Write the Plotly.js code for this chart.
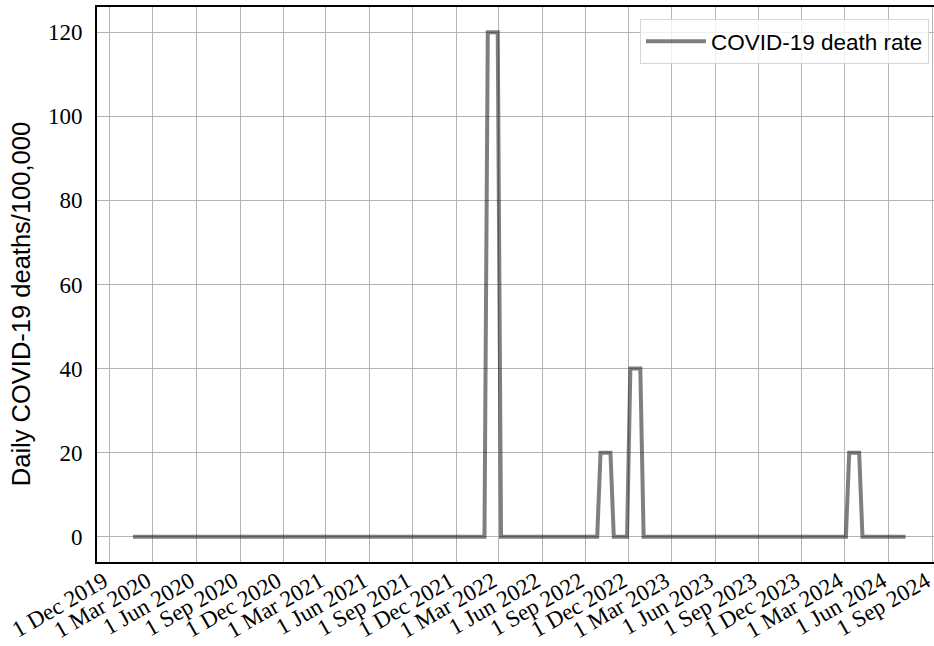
<!DOCTYPE html>
<html>
<head>
<meta charset="utf-8">
<script src="https://cdn.plot.ly/plotly-3.0.1.min.js"></script>
<style>html,body{margin:0;padding:0;background:#fff;}#chart{width:934px;height:646px;}</style>
</head>
<body>
<div id="chart"></div>
<script>
// Weekly series vertices (date of change, value)
const dates = ['2020-01-19','2022-01-30','2022-02-06','2022-02-27','2022-03-06',
  '2022-09-25','2022-10-02','2022-10-23','2022-10-30',
  '2022-11-27','2022-12-04','2022-12-25','2023-01-01',
  '2024-03-03','2024-03-10','2024-03-31','2024-04-07','2024-07-07'];
const deathRate = [0,0,120,120,0, 0,20,20,0, 0,40,40,0, 0,20,20,0,0];
const seriesName = 'COVID-19 death rate';
const yTitle = 'Daily COVID-19 deaths/100,000';
const yTicks = [0,20,40,60,80,100,120];
const xTickVals = ['2019-12-01','2020-03-01','2020-06-01','2020-09-01','2020-12-01',
  '2021-03-01','2021-06-01','2021-09-01','2021-12-01','2022-03-01','2022-06-01',
  '2022-09-01','2022-12-01','2023-03-01','2023-06-01','2023-09-01','2023-12-01',
  '2024-03-01','2024-06-01','2024-09-01'];
const xTickText = ['1 Dec 2019','1 Mar 2020','1 Jun 2020','1 Sep 2020','1 Dec 2020',
  '1 Mar 2021','1 Jun 2021','1 Sep 2021','1 Dec 2021','1 Mar 2022','1 Jun 2022',
  '1 Sep 2022','1 Dec 2022','1 Mar 2023','1 Jun 2023','1 Sep 2023','1 Dec 2023',
  '1 Mar 2024','1 Jun 2024','1 Sep 2024'];

const serif = '"Liberation Serif", "Times New Roman", serif';
const sans = '"Liberation Sans", Arial, sans-serif';

const trace = {
  x: dates, y: deathRate, type: 'scatter', mode: 'lines', name: seriesName,
  line: {color: 'rgba(0,0,0,0.5)', width: 4}
};

const layout = {
  width: 934, height: 646,
  margin: {l: 97, r: 0, t: 7, b: 84},
  paper_bgcolor: '#fff', plot_bgcolor: '#fff',
  showlegend: true,
  legend: {
    x: 0.994, y: 0.978, xanchor: 'right', yanchor: 'top',
    bgcolor: 'rgba(255,255,255,0.8)', bordercolor: '#d6d6d6', borderwidth: 1,
    itemwidth: 60,
    font: {family: sans, size: 22.5, color: '#000'}
  },
  xaxis: {
    type: 'date', range: ['2019-11-04', '2024-09-05'],
    tickmode: 'array', tickvals: xTickVals, ticktext: xTickText,
    tickangle: -30, ticks: '', ticklabelstandoff: -5, ticklabelshift: -6,
    ticklabeloverflow: 'allow',
    tickfont: {family: serif, size: 23, color: '#000'},
    showgrid: true, gridcolor: '#b4b4b4', gridwidth: 1,
    showline: true, linecolor: '#000', linewidth: 2, mirror: true,
    zeroline: false, fixedrange: true
  },
  yaxis: {
    range: [-6, 126], tickmode: 'array', tickvals: yTicks,
    ticks: '', ticklabelstandoff: 8,
    tickfont: {family: serif, size: 23, color: '#000'},
    showgrid: true, gridcolor: '#b4b4b4', gridwidth: 1,
    showline: true, linecolor: '#000', linewidth: 2, mirror: false,
    zeroline: false, fixedrange: true
  },
  annotations: [{
    text: yTitle, textangle: -90, showarrow: false,
    xref: 'paper', yref: 'paper', x: -0.0905, y: 0.465,
    xanchor: 'center', yanchor: 'middle',
    font: {family: sans, size: 25.5, color: '#000'}
  }]
};

Plotly.newPlot('chart', [trace], layout, {staticPlot: true, displayModeBar: false});
</script>
</body>
</html>
